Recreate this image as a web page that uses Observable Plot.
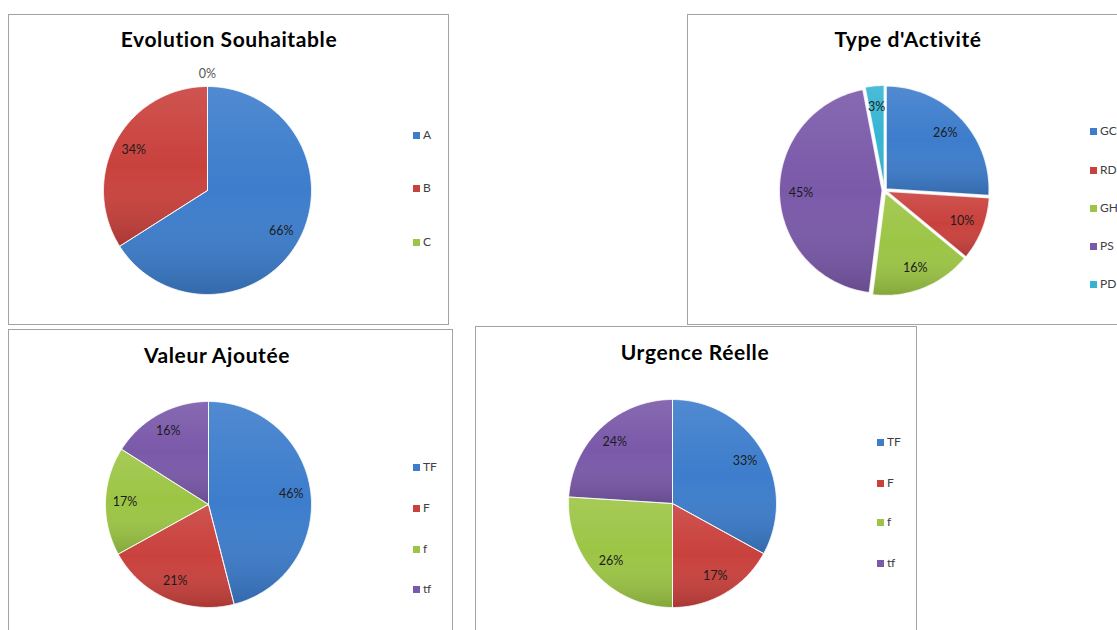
<!DOCTYPE html>
<html><head><meta charset="utf-8">
<script src="https://cdn.jsdelivr.net/npm/d3@7"></script>
<script src="https://cdn.jsdelivr.net/npm/@observablehq/plot@0.6"></script>
<style>
body{margin:0;background:#fff;}
#root{position:relative;width:1117px;height:630px;overflow:hidden;font-family:Lato,"Open Sans",sans-serif;background:#fff}
.panel{position:absolute;border:1px solid #a3a3a3;box-sizing:border-box;background:#fff}
.title{position:absolute;width:400px;text-align:center;font-weight:bold;font-size:21px;letter-spacing:0.6px;line-height:21px;color:#000;}
.leg{position:absolute;font-size:12px;line-height:12px;color:#404040;white-space:nowrap}
.sw{display:inline-block;width:7px;height:7px;margin-right:3px;vertical-align:0px}
.plotbox{position:absolute}
.plotbox svg{overflow:visible;display:block}
</style>
</head><body>
<svg width="0" height="0" style="position:absolute">
  <defs>
    <linearGradient id="shade" x1="0" y1="0" x2="0" y2="1">
      <stop offset="0" stop-color="#ffffff" stop-opacity="0.10"/>
      <stop offset="0.5" stop-color="#ffffff" stop-opacity="0"/>
      <stop offset="1" stop-color="#000000" stop-opacity="0.16"/>
    </linearGradient>
  </defs>
</svg>
<div id="root"></div>
<script>
// ---- data ----
const evoCats = ["A", "B", "C"];
const evoVals = [66, 34, 0];
const typeCats = ["GC", "RD", "GH", "PS", "PD"];
const typeVals = [26, 10, 16, 45, 3];
const valCats = ["TF", "F", "f", "tf"];
const valVals = [46, 21, 17, 16];
const urgCats = ["TF", "F", "f", "tf"];
const urgVals = [33, 17, 26, 24];
const titles = ["Evolution Souhaitable", "Type d'Activité", "Valeur Ajoutée", "Urgence Réelle"];
const palette = ["#3d7dcc", "#c9413d", "#9cc545", "#7a59a9", "#36b5d3"];

// ---- layout (page pixels) ----
const layout = [
  {cats: evoCats, vals: evoVals, title: titles[0], box: [8, 14, 441, 311], cx: 207, cy: 190, r: 104, titleX: 229, titleBase: 46, legX: 413, legY: [135, 188, 242], explode: 0},
  {cats: typeCats, vals: typeVals, title: titles[1], box: [687, 14, 460, 311], cx: 884, cy: 190, r: 103, titleX: 908, titleBase: 46, legX: 1090, legY: [131, 170, 208, 246, 284], explode: 0.022},
  {cats: valCats, vals: valVals, title: titles[2], box: [8, 329, 445, 320], cx: 208, cy: 504, r: 103, titleX: 217, titleBase: 362, legX: 413, legY: [467, 508, 549, 589], explode: 0},
  {cats: urgCats, vals: urgVals, title: titles[3], box: [475, 326, 442, 320], cx: 672, cy: 503, r: 104, titleX: 695, titleBase: 359, legX: 877, legY: [442, 483, 522, 563], explode: 0}
];

const root = document.getElementById("root");

for (const L of layout) {
  const [bx, by, bw, bh] = L.box;
  const panel = document.createElement("div");
  panel.className = "panel";
  Object.assign(panel.style, {left: bx + "px", top: by + "px", width: bw + "px", height: bh + "px"});
  root.appendChild(panel);

  const total = d3.sum(L.vals);
  const pts = [];
  const labels = [];
  let acc = 0;
  L.cats.forEach((c, i) => {
    const v = L.vals[i];
    const a0 = acc / total * 2 * Math.PI;
    acc += v;
    const a1 = acc / total * 2 * Math.PI;
    const am = (a0 + a1) / 2;
    const ox = Math.sin(am) * L.explode, oy = Math.cos(am) * L.explode;
    if (v > 0) {
      pts.push({cat: c, x: ox, y: oy});
      const n = Math.max(2, Math.ceil((a1 - a0) / (Math.PI / 180)));
      for (let k = 0; k <= n; k++) {
        const a = a0 + (a1 - a0) * k / n;
        pts.push({cat: c, x: ox + Math.sin(a), y: oy + Math.cos(a)});
      }
      pts.push({cat: c, x: ox, y: oy});
    }
    const lr = v > 0 ? 0.81 : 1.12;
    labels.push({cat: c, x: Math.sin(am) * lr, y: Math.cos(am) * lr, t: Math.round(v / total * 100) + "%", outside: v === 0});
  });

  const ox0 = L.cx - bx, oy0 = L.cy - by;
  const chart = Plot.plot({
    width: bw, height: bh, margin: 0,
    style: {background: "transparent", overflow: "visible"},
    x: {domain: [-1, 1], range: [ox0 - L.r, ox0 + L.r], axis: null},
    y: {domain: [-1, 1], range: [oy0 + L.r, oy0 - L.r], axis: null},
    color: {domain: L.cats, range: palette.slice(0, L.cats.length)},
    marks: [
      Plot.line(pts, {x: "x", y: "y", z: "cat", fill: "cat", stroke: "none", curve: "linear"}),
      Plot.line(pts, {x: "x", y: "y", z: "cat", fill: "url(#shade)", stroke: "#ffffff", strokeWidth: L.explode > 0 ? 1.5 : 1, strokeOpacity: 0.8, curve: "linear"}),
      Plot.text(labels.filter(d => !d.outside), {x: "x", y: "y", text: "t", fill: "#1c1c1c", fontSize: 12.5, fontFamily: "Lato, sans-serif"}),
      Plot.text(labels.filter(d => d.outside), {x: "x", y: "y", text: "t", fill: "#555555", fontSize: 12.5, fontFamily: "Lato, sans-serif"})
    ]
  });
  const holder = document.createElement("div");
  holder.className = "plotbox";
  Object.assign(holder.style, {left: bx + "px", top: by + "px", width: bw + "px", height: bh + "px"});
  holder.appendChild(chart);
  root.appendChild(holder);

  const t = document.createElement("div");
  t.className = "title";
  t.textContent = L.title;
  Object.assign(t.style, {left: (L.titleX - 200) + "px", top: (L.titleBase - 18.5) + "px"});
  root.appendChild(t);

  const color = chart.scale("color");
  L.cats.forEach((c, i) => {
    const lg = document.createElement("div");
    lg.className = "leg";
    Object.assign(lg.style, {left: L.legX + "px", top: (L.legY[i] - 6) + "px"});
    const sw = document.createElement("span");
    sw.className = "sw";
    sw.style.background = color.apply(c);
    lg.appendChild(sw);
    lg.appendChild(document.createTextNode(c));
    root.appendChild(lg);
  });
}
</script>
</body></html>
